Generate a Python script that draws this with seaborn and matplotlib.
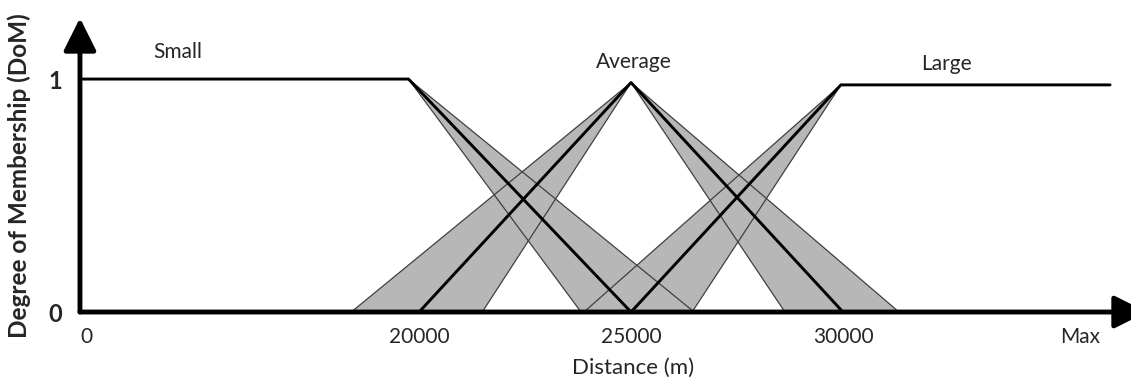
import numpy as np
import pandas as pd
import matplotlib
matplotlib.use("Agg")
import matplotlib.pyplot as plt
import seaborn as sns

# Membership functions (distance in m, degree of membership)
small_x = [0, 19750, 25000]
small_y = [1.0, 1.0, 0.0]
average_x = [20000, 25000, 30000]
average_y = [0.0, 0.985, 0.0]
large_x = [25000, 29950, 36300]
large_y = [0.0, 0.975, 0.975]

# Footprint of uncertainty: apex (distance, DoM) and the two feet on the axis
bands = {
    "small": ((19750, 1.0), (23820, 26490)),
    "average_left": ((25000, 0.985), (18400, 21490)),
    "average_right": ((25000, 0.985), (28630, 31320)),
    "large": ((29950, 0.975), (23890, 26440)),
}

tick_values = [0, 20000, 25000, 30000, 35600]
tick_labels = ["0", "20000", "25000", "30000", "Max"]
y_ticks = [0, 1]


# the 0..15000 part of the axis is drawn compressed
def fwd(d):
    d = np.asarray(d, dtype=float)
    return np.where(d < 15000, 15000 - 0.2 * (15000 - d), d)


def inv(u):
    u = np.asarray(u, dtype=float)
    return np.where(u < 15000, 15000 - (15000 - u) / 0.2, u)


sns.set_theme(style="white")
plt.rcParams["font.family"] = ["Lato", "DejaVu Sans"]

fig = plt.figure(figsize=(11.31, 3.82), dpi=100)
ax = fig.add_axes([0.0707, 0.1832, 0.9434, 0.7696])
ax.set_xscale("function", functions=(fwd, inv))
ax.set_xlim(0, 37170)
ax.set_ylim(0, 1.262)

# gray bands first, then their thin edges
for apex, feet in bands.values():
    ax.fill([feet[0], apex[0], feet[1]], [0, apex[1], 0], color="#b7b7b7", lw=0, zorder=1)
for apex, feet in bands.values():
    for f in feet:
        ax.plot([f, apex[0]], [0, apex[1]], color="#404040", lw=0.9, zorder=2)

rows = []
for name, xs, ys in [("Small", small_x, small_y), ("Average", average_x, average_y),
                     ("Large", large_x, large_y)]:
    for i, (x, y) in enumerate(zip(xs, ys)):
        rows.append({"set": name, "order": i, "distance": x, "dom": y})
df = pd.DataFrame(rows)
sns.lineplot(data=df, x="distance", y="dom", units="set", estimator=None, sort=False,
             color="black", lw=2.1, ax=ax, zorder=3)

# set names
ax.text(11580, 1.116, "Small", ha="center", va="center", fontsize=15)
ax.text(25070, 1.073, "Average", ha="center", va="center", fontsize=15)
ax.text(32450, 1.064, "Large", ha="center", va="center", fontsize=15)

# axes drawn as arrows
for spine in ax.spines.values():
    spine.set_visible(False)
arrow = dict(arrowstyle="-|>,head_length=1.0,head_width=0.5", mutation_scale=20,
             lw=3.5, color="black", shrinkA=0, shrinkB=0)
ax.annotate("", xy=(1, 0), xytext=(0, 0), xycoords="axes fraction", arrowprops=arrow,
            annotation_clip=False, zorder=5)
ax.annotate("", xy=(0, 1), xytext=(0, 0), xycoords="axes fraction", arrowprops=arrow,
            annotation_clip=False, zorder=5)

ax.set_xticks(tick_values)
ax.set_xticklabels(tick_labels, fontsize=15)
ax.get_xticklabels()[0].set_ha("left")
ax.set_yticks(y_ticks)
ax.set_yticklabels([str(v) for v in y_ticks], fontsize=17, fontweight="bold")
ax.tick_params(axis="x", length=0, pad=11)
ax.tick_params(axis="y", length=0, pad=13)
ax.minorticks_off()

ax.set_xlabel("Distance (m)", fontsize=16)
ax.xaxis.set_label_coords(0.518, -0.155)
ax.set_ylabel("Degree of Membership (DoM)", fontsize=17.5, fontweight="bold")
ax.yaxis.set_label_coords(-0.046, 0.463)
ax.grid(False)

fig.savefig("out.png", dpi=100)
